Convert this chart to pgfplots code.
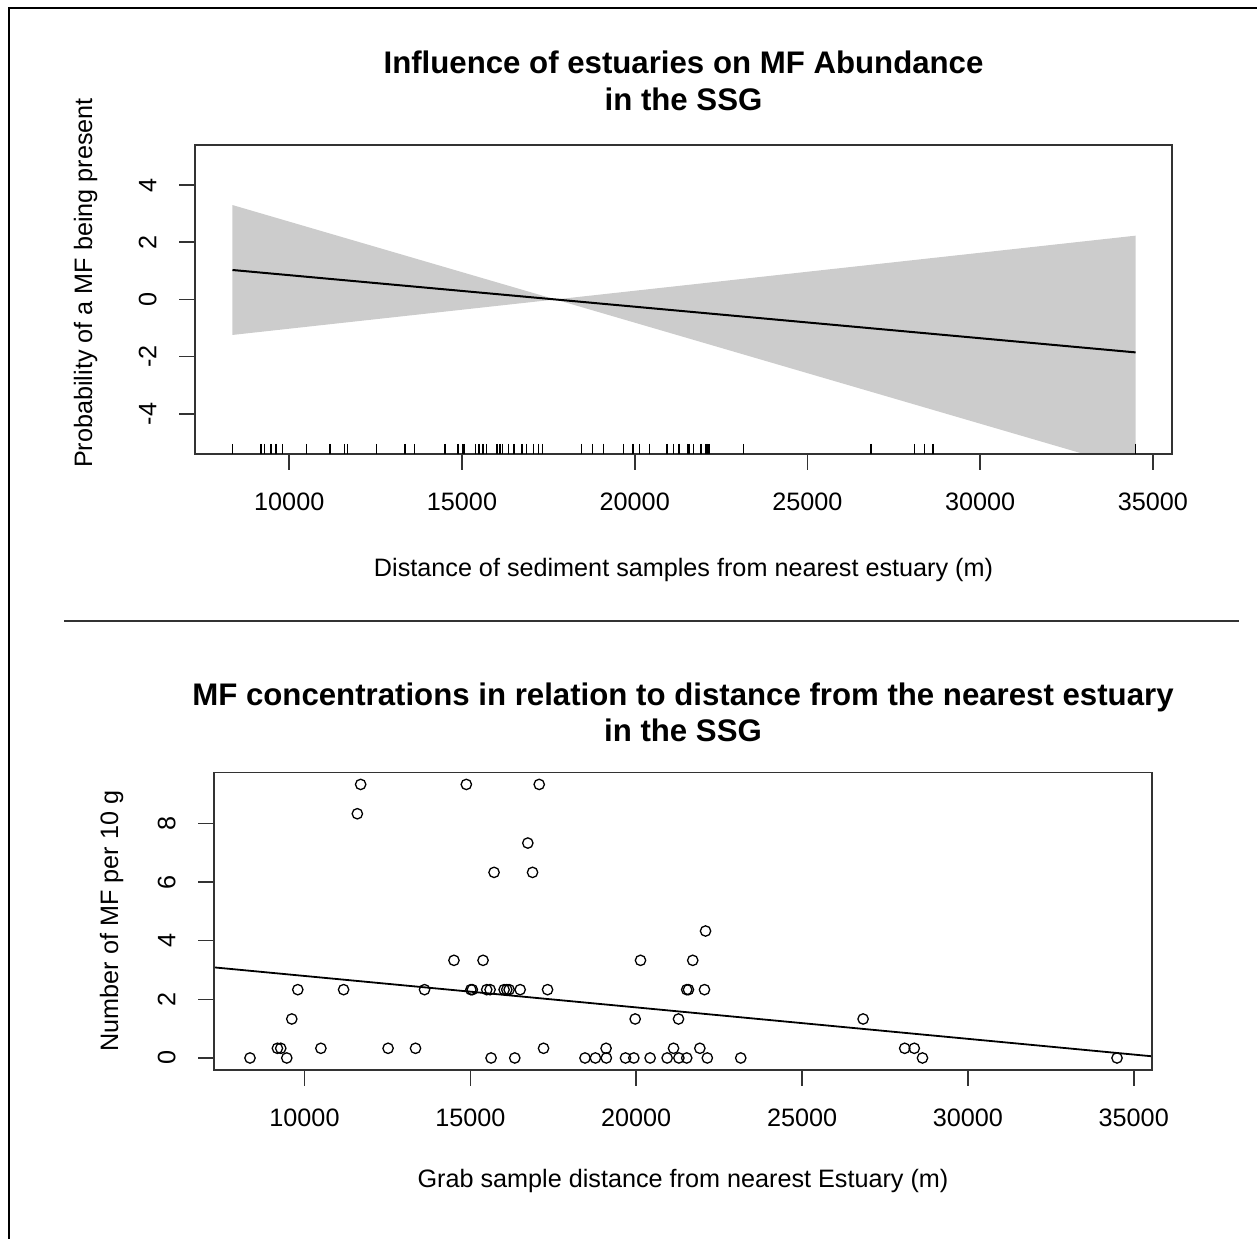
\documentclass[border=0pt]{standalone}
\usepackage{fontspec}
\setmainfont{Liberation Sans}
\usepackage{pgfplots}
\pgfplotsset{compat=1.18}
\usepackage{pgfplotstable}

\definecolor{bandgray}{gray}{0.8}
\definecolor{boxgray}{gray}{0.2}

% Grab samples: distance from the nearest estuary (m) and MF per 10 g
\pgfplotstableread{
dist  mf
8357  0
9183  0.33
9284  0.33
9466  0
9617  1.33
9798  2.33
10494 0.33
11179 2.33
11593 8.33
11693 9.33
12520 0.33
13347 0.33
13619 2.33
14506 3.33
14879 9.33
15016 2.33
15060 2.33
15383 3.33
15494 2.33
15595 2.33
15625 0
15715 6.33
16018 2.33
16098 2.33
16169 2.33
16340 0
16502 2.33
16733 7.33
16875 6.33
17076 9.33
17207 0.33
17328 2.33
18457 0
18770 0
19092 0.33
19100 0
19677 0
19929 0
19969 1.33
20130 3.33
20420 0
20933 0
21126 0.33
21276 1.33
21287 0
21523 0
21523 2.33
21576 2.33
21705 3.33
21919 0.33
22059 2.33
22091 4.33
22144 0
23152 0
26841 1.33
28095 0.33
28384 0.33
28631 0
34496 0
}\grabs

\newcommand{\tickfont}{\fontsize{12.6bp}{15bp}\selectfont}
\newcommand{\titlefont}{\fontsize{15.6bp}{18bp}\selectfont\bfseries}

\pgfplotsset{
  rplot/.style={
    scale only axis,
    axis on top,
    axis line style={line width=0.8bp, boxgray},
    tick style={line width=0.8bp, boxgray},
    tick align=outside,
    major tick length=8bp,
    xtick pos=bottom,
    ytick pos=left,
    minor tick num=0,
    scaled x ticks=false,
    scaled y ticks=false,
    ticklabel style={font=\tickfont},
    xticklabel style={anchor=center},
    yticklabel style={rotate=90, anchor=center},
    xticklabel shift=15.7bp,
    yticklabel shift=15.7bp,
    xmin=7272, xmax=35552,
    xtick={10000,15000,20000,25000,30000,35000},
    xticklabels={10000,15000,20000,25000,30000,35000},
  }
}

\begin{document}
\begin{tikzpicture}[x=0.5bp,y=0.5bp]
\useasboundingbox (0,0) rectangle (1257,1239);

% page frame and separator
\draw[line width=1bp] (9,0) -- (9,1231) -- (1257,1231);
\draw[line width=1bp, boxgray] (64,617.5) -- (1239,617.5);

% ---- upper panel: fitted term with confidence band and rug
\begin{axis}[rplot,
  at={(97.5bp,392.5bp)}, anchor=south west,
  width=488.5bp, height=154.5bp,
  ymin=-5.4, ymax=5.4,
  ytick={-4,-2,0,2,4},
  yticklabels={-4,-2,0,2,4},
]
\addplot[fill=bandgray, draw=none] coordinates {
  (8357,3.30) (17705,0) (34496,2.23) (34496,-5.93) (17705,0) (8357,-1.24)
} -- cycle;
\addplot[black, line width=1bp] coordinates {(8357,1.03) (34496,-1.85)};
\addplot[only marks, mark=|, mark size=2.5bp, mark options={line width=0.7bp, black}]
  table[x=dist, y expr=-5.225] {\grabs};
\end{axis}

% ---- lower panel: scatter with fitted line
\begin{axis}[rplot,
  at={(107bp,84.5bp)}, anchor=south west,
  width=469bp, height=148.65bp,
  ymin=-0.41, ymax=9.73,
  ytick={0,2,4,6,8},
  yticklabels={0,2,4,6,8},
]
\addplot[black, line width=0.9bp] coordinates {(7272,3.090) (35552,0.057)};
\addplot[only marks, mark=o, mark size=2.6bp, mark options={line width=0.65bp, black}]
  table[x=dist, y=mf] {\grabs};
\end{axis}

% titles and axis labels
\node[font=\titlefont, anchor=base] at (683.5,1165) {Influence of estuaries on MF Abundance};
\node[font=\titlefont, anchor=base] at (683.5,1128) {in the SSG};
\node[font=\tickfont, anchor=base] at (683.5,662) {Distance of sediment samples from nearest estuary (m)};
\node[font=\tickfont, anchor=base, rotate=90] at (92,956) {Probability of a MF being present};

\node[font=\titlefont, anchor=base] at (683,533) {MF concentrations in relation to distance from the nearest estuary};
\node[font=\titlefont, anchor=base] at (683,497) {in the SSG};
\node[font=\tickfont, anchor=base] at (683,51) {Grab sample distance from nearest Estuary (m)};
\node[font=\tickfont, anchor=base, rotate=90] at (118,318) {Number of MF per 10 g};
\end{tikzpicture}
\end{document}
